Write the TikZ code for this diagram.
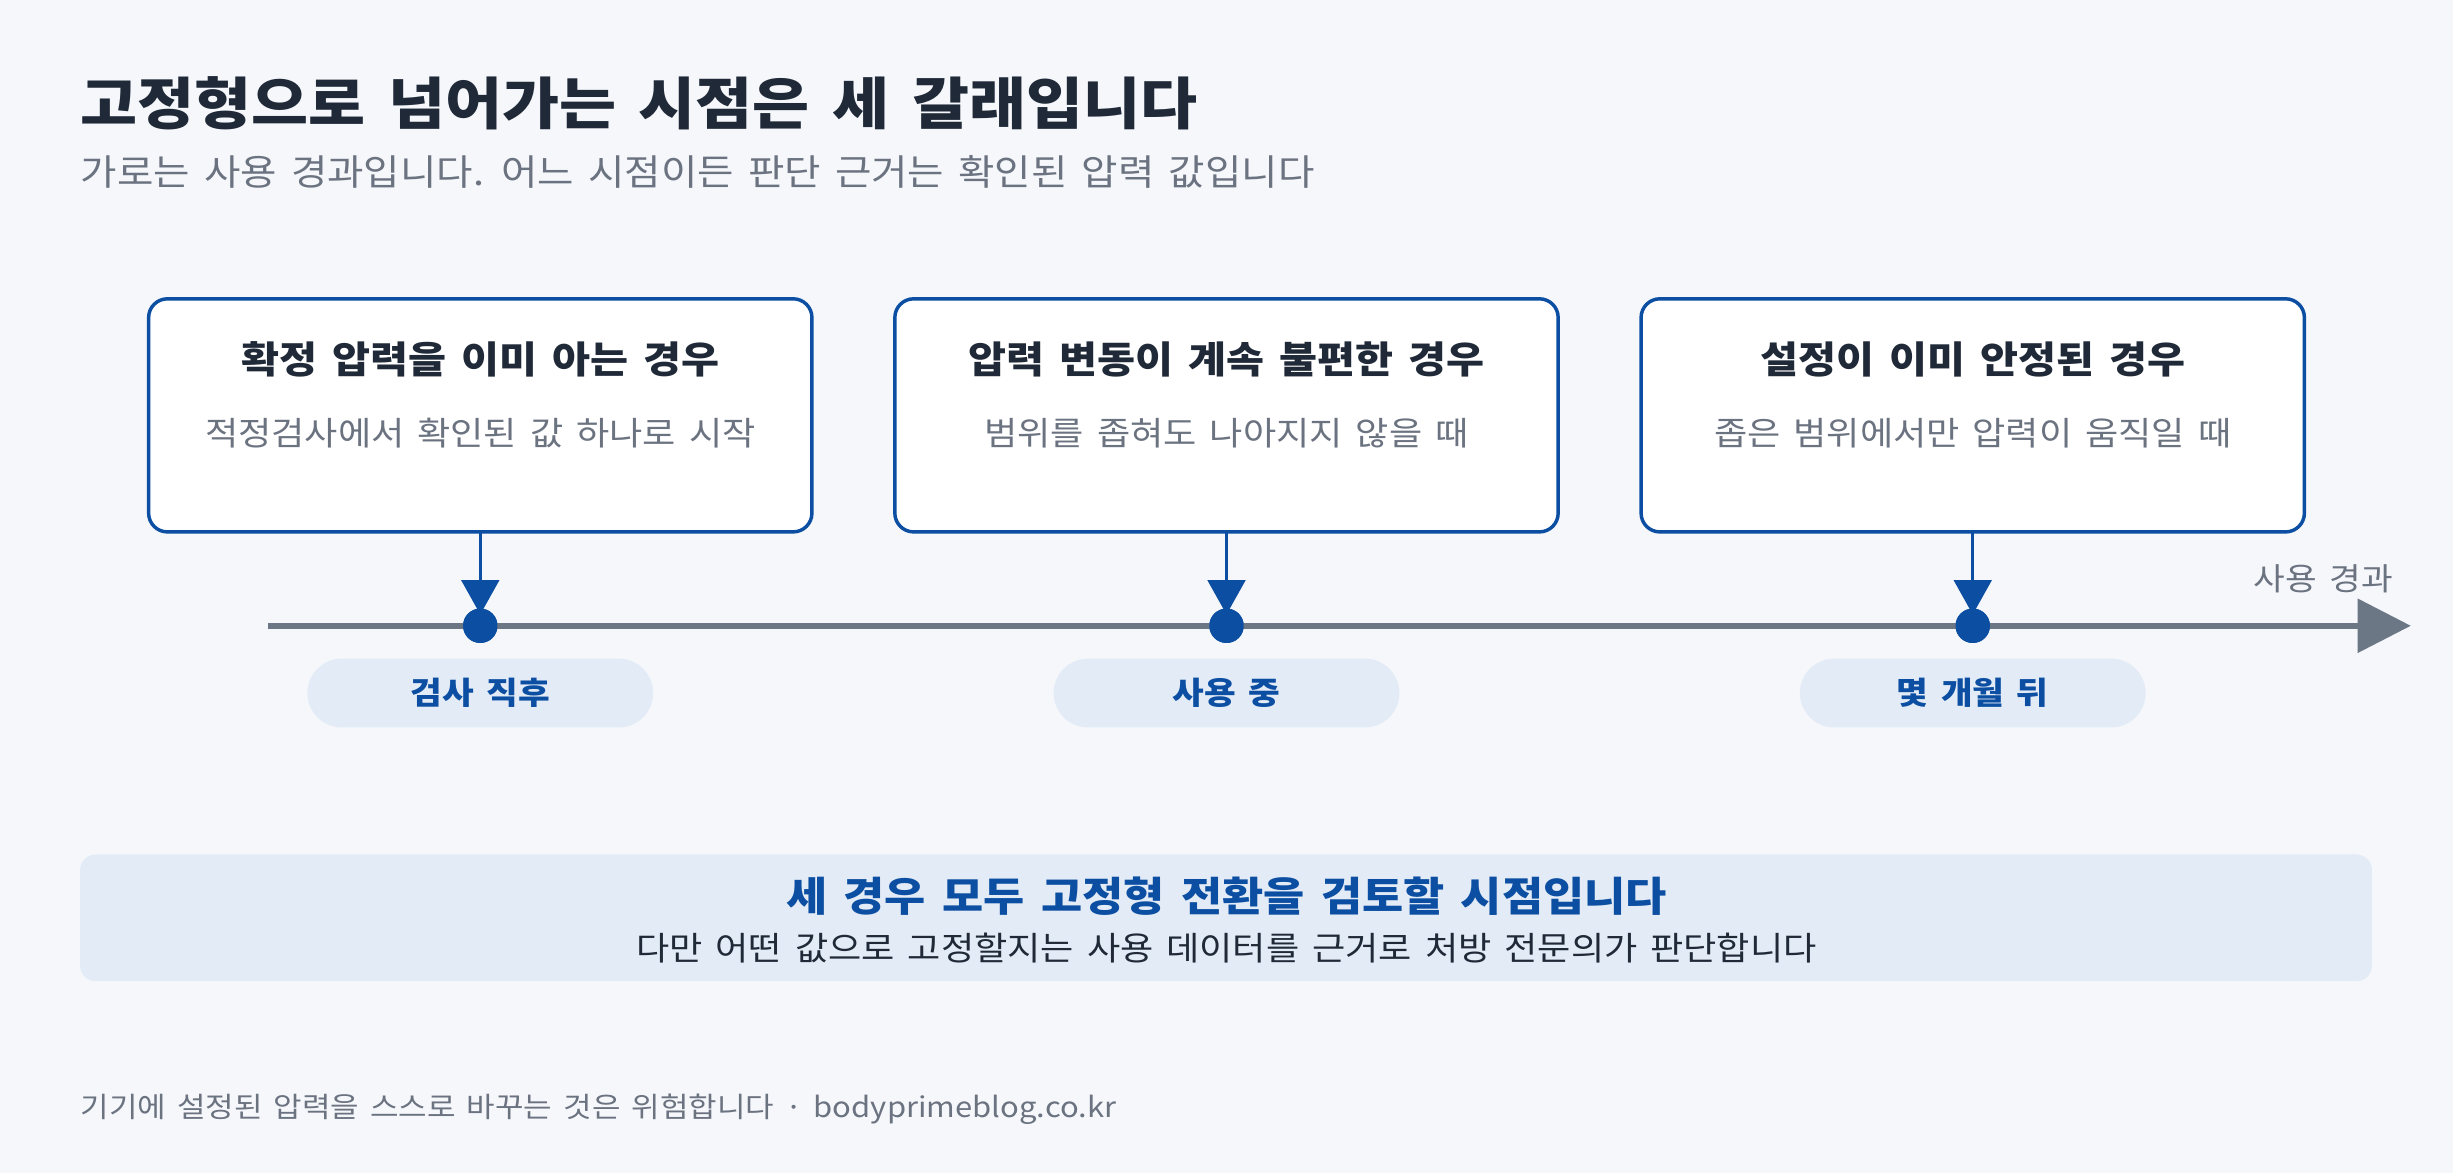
\documentclass[tikz,border=0pt]{standalone}
\usepackage{fontspec}
\setmainfont{Noto Sans CJK KR}[FakeStretch=1.1,WordSpace=1.6]
\usetikzlibrary{arrows.meta}
\definecolor{bg}{HTML}{F5F7FB}
\definecolor{ink}{HTML}{1F2937}
\definecolor{gr}{HTML}{6B7280}
\definecolor{bl}{HTML}{0B4EA2}
\definecolor{pale}{HTML}{E3EBF6}
\definecolor{ax}{HTML}{6B7785}
\tikzset{
 box/.style={draw=bl,line width=2.2pt,fill=white,rounded corners=12pt,minimum width=424pt,minimum height=149pt,anchor=north west,outer sep=0pt},
 bt/.style={font=\fontsize{24}{28}\selectfont\bfseries,text=ink},
 bs/.style={font=\fontsize{21}{25}\selectfont,text=gr},
 pill/.style={fill=pale,rounded corners=22pt,minimum width=221pt,minimum height=44pt,font=\fontsize{20}{24}\selectfont\bfseries,text=bl},
 dot/.style={circle,fill=bl,minimum size=22pt,inner sep=0},
 dn/.style={draw=bl,line width=2.2pt,-{Triangle[length=22pt,width=24pt]}}
}
\begin{document}
\begin{tikzpicture}[x=1pt,y=-1pt]
\fill[bg] (0,0) rectangle (1568,750);
\useasboundingbox (0,0) rectangle (1568,750);
\node[anchor=west,font=\fontsize{36}{42}\selectfont\bfseries,text=ink] (title) at (48,66) {고정형으로 넘어가는 시점은 세 갈래입니다};
\node[anchor=west,font=\fontsize{23}{27}\selectfont,text=gr] (sub) at (48,110) {가로는 사용 경과입니다. 어느 시점이든 판단 근거는 확인된 압력 값입니다};
\foreach \i/\x/\t/\s/\p in {1/95/확정 압력을 이미 아는 경우/적정검사에서 확인된 값 하나로 시작/검사 직후,
 2/572/압력 변동이 계속 불편한 경우/범위를 좁혀도 나아지지 않을 때/사용 중,
 3/1049/설정이 이미 안정된 경우/좁은 범위에서만 압력이 움직일 때/몇 개월 뒤}{
 \node[box] (b\i) at (\x,191) {};
 \node[bt] (bt\i) at (\x+212,230) {\t};
 \node[bs] (bs\i) at (\x+212,277) {\s};
 \node[dot] (d\i) at (\x+212,400) {};
 \node[pill] (p\i) at (\x+212,443) {\p};
}
\coordinate (a0) at (171,400);
\coordinate (a1) at (1541,400);
\draw[ax,line width=3.5pt,-{Triangle[length=34pt,width=34pt]}] (a0) -- (a1);
\foreach \i in {1,2,3}{
 \node[dot] at (d\i) {};
 \draw[dn] (d\i |- b\i.south) -- ([yshift=-4pt]d\i.north);
}
\node[font=\fontsize{20}{24}\selectfont,text=gr] (lab) at (1485,370) {사용 경과};
\node[fill=pale,rounded corners=10pt,minimum width=1465pt,minimum height=81pt,anchor=north west] (band) at (51,546) {};
\node[font=\fontsize{26}{30}\selectfont\bfseries,text=bl] (bt) at (784,573) {세 경우 모두 고정형 전환을 검토할 시점입니다};
\node[font=\fontsize{21}{25}\selectfont,text=ink] (bs) at (784,606) {다만 어떤 값으로 고정할지는 사용 데이터를 근거로 처방 전문의가 판단합니다};
\node[anchor=west,font=\fontsize{18}{22}\selectfont,text=gr] (foot) at (48,709) {기기에 설정된 압력을 스스로 바꾸는 것은 위험합니다 · bodyprimeblog.co.kr};
\end{tikzpicture}
\end{document}
